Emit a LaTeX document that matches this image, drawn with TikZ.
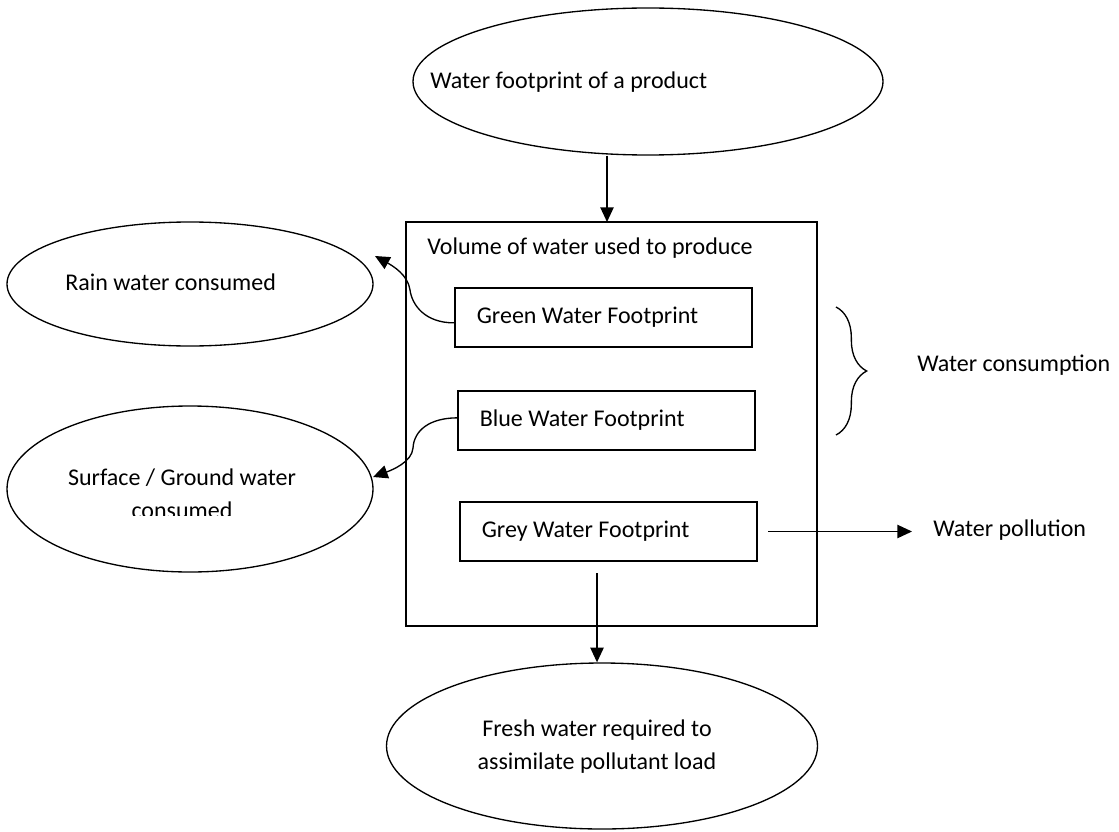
\documentclass[tikz,border=0pt]{standalone}
\usepackage{fontspec}
\setmainfont{Carlito}
\usepackage{tikz}
\usetikzlibrary{shapes.geometric}
\usetikzlibrary{arrows.meta}
\usetikzlibrary{decorations.pathreplacing}

\begin{document}
\begin{tikzpicture}[x=0.75pt,y=-0.75pt,font=\fontsize{18pt}{24.75pt}\selectfont,
            bubble/.style={draw,ellipse,line width=1pt,inner sep=0pt},
            fpbox/.style={draw,rectangle,line width=1.2pt,minimum width=222.75pt,minimum height=44.25pt,text width=190pt,inner xsep=15.75pt,align=flush left},
            txt/.style={anchor=west,inner sep=0pt},
            arr/.style={line width=1pt,-{Triangle[length=11pt,width=10pt]}}]
            \useasboundingbox (0,0) rectangle (1119,831);
            \node[bubble,minimum width=352.5pt,minimum height=110.25pt] (prodell) at (648,81.5) {};
            \node[txt] (prodtxt) at (430,82) {Water footprint of a product};
            \node[draw,line width=1.2pt,minimum width=308.25pt,minimum height=303pt,inner sep=0pt] (volbox) at (611.5,424) {};
            \node[txt] (voltxt) at (427,248) {Volume of water used to produce};
            \node[fpbox] (green) at (603.5,317.5) {Green Water Footprint};
            \node[fpbox] (blue) at (606.5,420.5) {Blue Water Footprint};
            \node[fpbox] (grey) at (608.5,531.5) {Grey Water Footprint};
            \node[bubble,minimum width=274.5pt,minimum height=93pt] (rainell) at (190,284) {};
            \node[txt] (raintxt) at (65,282) {Rain water consumed};
            \node[bubble,minimum width=274.5pt,minimum height=124.5pt] (surfell) at (190,489) {};
            \begin{scope}
                \clip (0,440) rectangle (380,515);
                \node[align=center,inner sep=0pt] (surftxt) at (182,494) {Surface / Ground water\\consumed};
            \end{scope}
            \node[bubble,minimum width=323.25pt,minimum height=124.5pt] (freshell) at (602,746) {};
            \node[align=center,inner sep=0pt] (freshtxt) at (597,746.5) {Fresh water required to\\assimilate pollutant load};
            \node[txt] (constxt) at (917,365) {Water consumption};
            \node[txt] (pollutxt) at (933,530) {Water pollution};

            \coordinate (volin) at (607,222);
            \draw[arr] (volin |- prodell.south) -- (volin);
            \coordinate (greyout) at (597,573);
            \draw[arr] (greyout) -- (greyout |- freshell.north);
            \draw[arr] ([xshift=8pt]grey.east) -- ([xshift=-15.75pt]grey.east -| pollutxt.west);

            \coordinate (raintip) at (375,256);
            \draw[arr] ([yshift=-4pt]green.west) .. controls (425,323) and (412,305) .. (410,290)
                .. controls (408,275) and (393,266) .. (raintip);
            \coordinate (surftip) at (373,477);
            \draw[arr] ([yshift=2pt]blue.west) .. controls (430,418) and (414,430) .. (413,448)
                .. controls (412,462) and (392,470) .. (surftip);

            \coordinate (bracetop) at (836,307);
            \coordinate (bracebot) at (836,435);
            \draw[line width=1pt,decorate,decoration={brace,amplitude=23pt}] (bracetop) -- (bracebot);
        \end{tikzpicture}
\end{document}
